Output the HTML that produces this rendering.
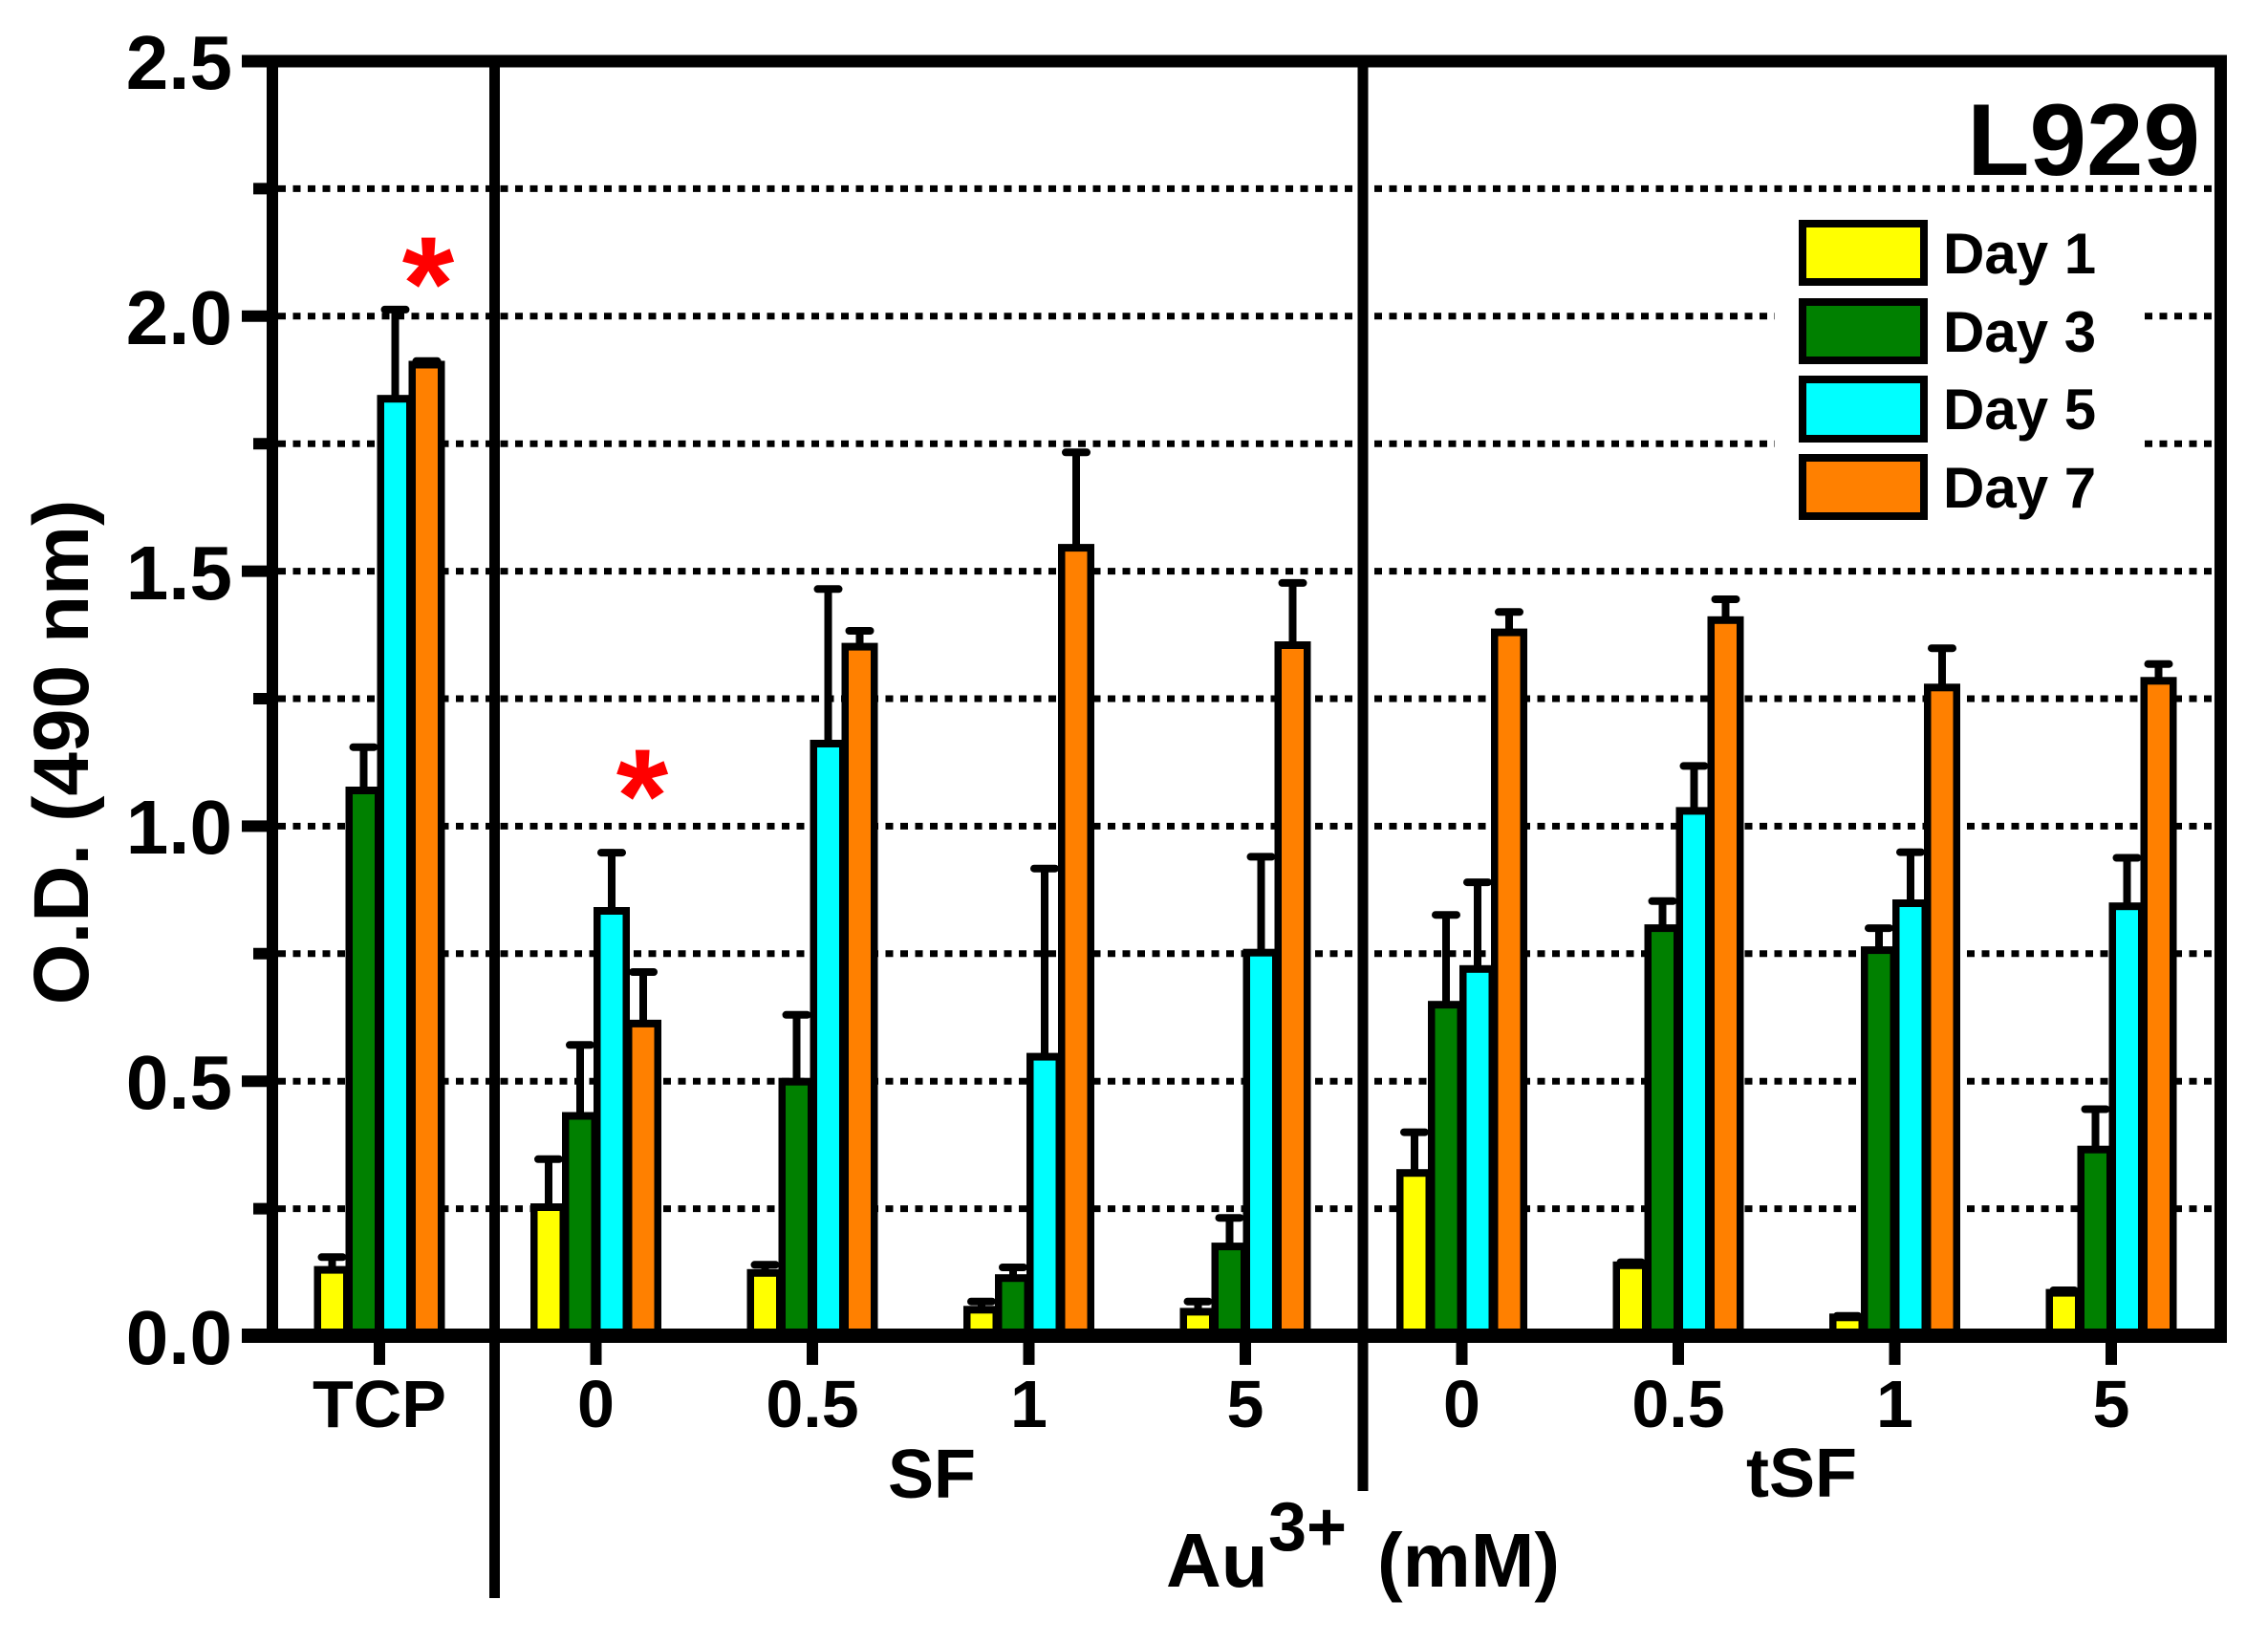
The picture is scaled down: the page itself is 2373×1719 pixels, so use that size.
<!DOCTYPE html>
<html><head><meta charset="utf-8"><style>
html,body{margin:0;padding:0;background:#fff;}
svg{display:block;}
text{font-family:"Liberation Sans",Arial,sans-serif;font-weight:bold;fill:#000;}
.k{fill:#000;}
.y{fill:#ffff00;}.g{fill:#008000;}.c{fill:#00ffff;}.o{fill:#ff8000;}
.e{stroke:#000;stroke-width:8;}
.cap{stroke:#000;stroke-width:8;stroke-linecap:round;}
.grid{stroke:#000;stroke-width:7;stroke-dasharray:8 7.5;}
</style></head><body>
<svg width="2373" height="1719" viewBox="0 0 2373 1719" xmlns="http://www.w3.org/2000/svg">
<rect width="2373" height="1719" fill="#fff"/>
<g class="grid">
<line x1="291" x2="2317" y1="1264.6" y2="1264.6"/>
<line x1="291" x2="2317" y1="1131.2" y2="1131.2"/>
<line x1="291" x2="2317" y1="997.8" y2="997.8"/>
<line x1="291" x2="2317" y1="864.4" y2="864.4"/>
<line x1="291" x2="2317" y1="731" y2="731"/>
<line x1="291" x2="2317" y1="597.6" y2="597.6"/>
<line x1="291" x2="2317" y1="464.2" y2="464.2"/>
<line x1="291" x2="2317" y1="330.8" y2="330.8"/>
<line x1="291" x2="2317" y1="197.4" y2="197.4"/>
</g>
<rect x="1857" y="215" width="386" height="343" fill="#fff"/>
<rect x="512" y="64" width="11" height="1608" fill="#000"/>
<rect x="1420.5" y="64" width="11" height="1496" fill="#000"/>

<g transform="translate(347.5 0)"><line class="e" x1="0" x2="0" y1="1328.6" y2="1315.3"/><line class="cap" x1="-11" x2="11" y1="1315.3" y2="1315.3"/><rect class="k" x="-19" y="1324.6" width="38" height="74"/><rect class="y" x="-11.5" y="1332.6" width="23" height="66"/></g>
<g transform="translate(380.5 0)"><line class="e" x1="0" x2="0" y1="827" y2="781.7"/><line class="cap" x1="-11" x2="11" y1="781.7" y2="781.7"/><rect class="k" x="-19" y="823" width="38" height="575"/><rect class="g" x="-11.5" y="831" width="23" height="567"/></g>
<g transform="translate(413.5 0)"><line class="e" x1="0" x2="0" y1="417.2" y2="323.9"/><line class="cap" x1="-11" x2="11" y1="323.9" y2="323.9"/><rect class="k" x="-19" y="413.2" width="38" height="985"/><rect class="c" x="-11.5" y="421.2" width="23" height="977"/></g>
<g transform="translate(446.5 0)"><line class="e" x1="0" x2="0" y1="381.5" y2="377.8"/><line class="cap" x1="-11" x2="11" y1="377.8" y2="377.8"/><rect class="k" x="-19" y="377.5" width="38" height="1021"/><rect class="o" x="-11.5" y="385.5" width="23" height="1013"/></g>
<g transform="translate(574 0)"><line class="e" x1="0" x2="0" y1="1263" y2="1212.8"/><line class="cap" x1="-11" x2="11" y1="1212.8" y2="1212.8"/><rect class="k" x="-19" y="1259" width="38" height="139"/><rect class="y" x="-11.5" y="1267" width="23" height="131"/></g>
<g transform="translate(607 0)"><line class="e" x1="0" x2="0" y1="1167.5" y2="1093.3"/><line class="cap" x1="-11" x2="11" y1="1093.3" y2="1093.3"/><rect class="k" x="-19" y="1163.5" width="38" height="235"/><rect class="g" x="-11.5" y="1171.5" width="23" height="227"/></g>
<g transform="translate(640 0)"><line class="e" x1="0" x2="0" y1="953" y2="892.1"/><line class="cap" x1="-11" x2="11" y1="892.1" y2="892.1"/><rect class="k" x="-19" y="949" width="38" height="449"/><rect class="c" x="-11.5" y="957" width="23" height="441"/></g>
<g transform="translate(673 0)"><line class="e" x1="0" x2="0" y1="1070.9" y2="1017"/><line class="cap" x1="-11" x2="11" y1="1017" y2="1017"/><rect class="k" x="-19" y="1066.9" width="38" height="332"/><rect class="o" x="-11.5" y="1074.9" width="23" height="324"/></g>
<g transform="translate(800.5 0)"><line class="e" x1="0" x2="0" y1="1331.8" y2="1323.3"/><line class="cap" x1="-11" x2="11" y1="1323.3" y2="1323.3"/><rect class="k" x="-19" y="1327.8" width="38" height="71"/><rect class="y" x="-11.5" y="1335.8" width="23" height="63"/></g>
<g transform="translate(833.5 0)"><line class="e" x1="0" x2="0" y1="1131.7" y2="1061.8"/><line class="cap" x1="-11" x2="11" y1="1061.8" y2="1061.8"/><rect class="k" x="-19" y="1127.7" width="38" height="271"/><rect class="g" x="-11.5" y="1135.7" width="23" height="263"/></g>
<g transform="translate(866.5 0)"><line class="e" x1="0" x2="0" y1="778" y2="616.3"/><line class="cap" x1="-11" x2="11" y1="616.3" y2="616.3"/><rect class="k" x="-19" y="774" width="38" height="624"/><rect class="c" x="-11.5" y="782" width="23" height="616"/></g>
<g transform="translate(899.5 0)"><line class="e" x1="0" x2="0" y1="676.6" y2="660"/><line class="cap" x1="-11" x2="11" y1="660" y2="660"/><rect class="k" x="-19" y="672.6" width="38" height="726"/><rect class="o" x="-11.5" y="680.6" width="23" height="718"/></g>
<g transform="translate(1027 0)"><line class="e" x1="0" x2="0" y1="1370.3" y2="1361.7"/><line class="cap" x1="-11" x2="11" y1="1361.7" y2="1361.7"/><rect class="k" x="-19" y="1366.3" width="38" height="32"/><rect class="y" x="-11.5" y="1374.3" width="23" height="24"/></g>
<g transform="translate(1060 0)"><line class="e" x1="0" x2="0" y1="1337.2" y2="1326"/><line class="cap" x1="-11" x2="11" y1="1326" y2="1326"/><rect class="k" x="-19" y="1333.2" width="38" height="65"/><rect class="g" x="-11.5" y="1341.2" width="23" height="57"/></g>
<g transform="translate(1093 0)"><line class="e" x1="0" x2="0" y1="1105.6" y2="908.7"/><line class="cap" x1="-11" x2="11" y1="908.7" y2="908.7"/><rect class="k" x="-19" y="1101.6" width="38" height="297"/><rect class="c" x="-11.5" y="1109.6" width="23" height="289"/></g>
<g transform="translate(1126 0)"><line class="e" x1="0" x2="0" y1="573.1" y2="473.3"/><line class="cap" x1="-11" x2="11" y1="473.3" y2="473.3"/><rect class="k" x="-19" y="569.1" width="38" height="829"/><rect class="o" x="-11.5" y="577.1" width="23" height="821"/></g>
<g transform="translate(1253.5 0)"><line class="e" x1="0" x2="0" y1="1372.4" y2="1361.7"/><line class="cap" x1="-11" x2="11" y1="1361.7" y2="1361.7"/><rect class="k" x="-19" y="1368.4" width="38" height="30"/><rect class="y" x="-11.5" y="1376.4" width="23" height="22"/></g>
<g transform="translate(1286.5 0)"><line class="e" x1="0" x2="0" y1="1304.1" y2="1274.2"/><line class="cap" x1="-11" x2="11" y1="1274.2" y2="1274.2"/><rect class="k" x="-19" y="1300.1" width="38" height="98"/><rect class="g" x="-11.5" y="1308.1" width="23" height="90"/></g>
<g transform="translate(1319.5 0)"><line class="e" x1="0" x2="0" y1="996.7" y2="896.4"/><line class="cap" x1="-11" x2="11" y1="896.4" y2="896.4"/><rect class="k" x="-19" y="992.7" width="38" height="406"/><rect class="c" x="-11.5" y="1000.7" width="23" height="398"/></g>
<g transform="translate(1352.5 0)"><line class="e" x1="0" x2="0" y1="675" y2="609.9"/><line class="cap" x1="-11" x2="11" y1="609.9" y2="609.9"/><rect class="k" x="-19" y="671" width="38" height="727"/><rect class="o" x="-11.5" y="679" width="23" height="719"/></g>
<g transform="translate(1480 0)"><line class="e" x1="0" x2="0" y1="1227.2" y2="1184.6"/><line class="cap" x1="-11" x2="11" y1="1184.6" y2="1184.6"/><rect class="k" x="-19" y="1223.2" width="38" height="175"/><rect class="y" x="-11.5" y="1231.2" width="23" height="167"/></g>
<g transform="translate(1513 0)"><line class="e" x1="0" x2="0" y1="1051.2" y2="957.2"/><line class="cap" x1="-11" x2="11" y1="957.2" y2="957.2"/><rect class="k" x="-19" y="1047.2" width="38" height="351"/><rect class="g" x="-11.5" y="1055.2" width="23" height="343"/></g>
<g transform="translate(1546 0)"><line class="e" x1="0" x2="0" y1="1013.8" y2="923.1"/><line class="cap" x1="-11" x2="11" y1="923.1" y2="923.1"/><rect class="k" x="-19" y="1009.8" width="38" height="389"/><rect class="c" x="-11.5" y="1017.8" width="23" height="381"/></g>
<g transform="translate(1579 0)"><line class="e" x1="0" x2="0" y1="661.6" y2="640.3"/><line class="cap" x1="-11" x2="11" y1="640.3" y2="640.3"/><rect class="k" x="-19" y="657.6" width="38" height="741"/><rect class="o" x="-11.5" y="665.6" width="23" height="733"/></g>
<g transform="translate(1706.5 0)"><line class="e" x1="0" x2="0" y1="1323.8" y2="1320.6"/><line class="cap" x1="-11" x2="11" y1="1320.6" y2="1320.6"/><rect class="k" x="-19" y="1319.8" width="38" height="79"/><rect class="y" x="-11.5" y="1327.8" width="23" height="71"/></g>
<g transform="translate(1739.5 0)"><line class="e" x1="0" x2="0" y1="971.1" y2="942.8"/><line class="cap" x1="-11" x2="11" y1="942.8" y2="942.8"/><rect class="k" x="-19" y="967.1" width="38" height="431"/><rect class="g" x="-11.5" y="975.1" width="23" height="423"/></g>
<g transform="translate(1772.5 0)"><line class="e" x1="0" x2="0" y1="848.4" y2="801.4"/><line class="cap" x1="-11" x2="11" y1="801.4" y2="801.4"/><rect class="k" x="-19" y="844.4" width="38" height="554"/><rect class="c" x="-11.5" y="852.4" width="23" height="546"/></g>
<g transform="translate(1805.5 0)"><line class="e" x1="0" x2="0" y1="648.8" y2="627"/><line class="cap" x1="-11" x2="11" y1="627" y2="627"/><rect class="k" x="-19" y="644.8" width="38" height="754"/><rect class="o" x="-11.5" y="652.8" width="23" height="746"/></g>
<g transform="translate(1933 0)"><line class="e" x1="0" x2="0" y1="1378.3" y2="1376.7"/><line class="cap" x1="-11" x2="11" y1="1376.7" y2="1376.7"/><rect class="k" x="-19" y="1374.3" width="38" height="24"/><rect class="y" x="-11.5" y="1382.3" width="23" height="16"/></g>
<g transform="translate(1966 0)"><line class="e" x1="0" x2="0" y1="994.1" y2="971.1"/><line class="cap" x1="-11" x2="11" y1="971.1" y2="971.1"/><rect class="k" x="-19" y="990.1" width="38" height="408"/><rect class="g" x="-11.5" y="998.1" width="23" height="400"/></g>
<g transform="translate(1999 0)"><line class="e" x1="0" x2="0" y1="945" y2="891.6"/><line class="cap" x1="-11" x2="11" y1="891.6" y2="891.6"/><rect class="k" x="-19" y="941" width="38" height="457"/><rect class="c" x="-11.5" y="949" width="23" height="449"/></g>
<g transform="translate(2032 0)"><line class="e" x1="0" x2="0" y1="719.3" y2="678.2"/><line class="cap" x1="-11" x2="11" y1="678.2" y2="678.2"/><rect class="k" x="-19" y="715.3" width="38" height="683"/><rect class="o" x="-11.5" y="723.3" width="23" height="675"/></g>
<g transform="translate(2159.5 0)"><line class="e" x1="0" x2="0" y1="1352.6" y2="1350"/><line class="cap" x1="-11" x2="11" y1="1350" y2="1350"/><rect class="k" x="-19" y="1348.6" width="38" height="50"/><rect class="y" x="-11.5" y="1356.6" width="23" height="42"/></g>
<g transform="translate(2192.5 0)"><line class="e" x1="0" x2="0" y1="1202.7" y2="1160.5"/><line class="cap" x1="-11" x2="11" y1="1160.5" y2="1160.5"/><rect class="k" x="-19" y="1198.7" width="38" height="200"/><rect class="g" x="-11.5" y="1206.7" width="23" height="192"/></g>
<g transform="translate(2225.5 0)"><line class="e" x1="0" x2="0" y1="948.2" y2="897.5"/><line class="cap" x1="-11" x2="11" y1="897.5" y2="897.5"/><rect class="k" x="-19" y="944.2" width="38" height="454"/><rect class="c" x="-11.5" y="952.2" width="23" height="446"/></g>
<g transform="translate(2258.5 0)"><line class="e" x1="0" x2="0" y1="712.3" y2="694.7"/><line class="cap" x1="-11" x2="11" y1="694.7" y2="694.7"/><rect class="k" x="-19" y="708.3" width="38" height="690"/><rect class="o" x="-11.5" y="716.3" width="23" height="682"/></g>

<rect x="253" y="57.5" width="2077" height="13" fill="#000"/>
<rect x="253" y="1390" width="2077" height="15" fill="#000"/>
<rect x="279" y="57.5" width="12" height="1347.5" fill="#000"/>
<rect x="2317" y="57.5" width="13" height="1347.5" fill="#000"/>
<g stroke="#000" stroke-width="12">
<line x1="253" x2="285" y1="1131.2" y2="1131.2"/>
<line x1="253" x2="285" y1="864.4" y2="864.4"/>
<line x1="253" x2="285" y1="597.6" y2="597.6"/>
<line x1="253" x2="285" y1="330.8" y2="330.8"/>
<line x1="265" x2="285" y1="1264.6" y2="1264.6"/>
<line x1="265" x2="285" y1="997.8" y2="997.8"/>
<line x1="265" x2="285" y1="731" y2="731"/>
<line x1="265" x2="285" y1="464.2" y2="464.2"/>
<line x1="265" x2="285" y1="197.4" y2="197.4"/>
</g>
<g stroke="#000" stroke-width="12">
<line x1="397" x2="397" y1="1400" y2="1428"/>
<line x1="623.5" x2="623.5" y1="1400" y2="1428"/>
<line x1="850" x2="850" y1="1400" y2="1428"/>
<line x1="1076.5" x2="1076.5" y1="1400" y2="1428"/>
<line x1="1303" x2="1303" y1="1400" y2="1428"/>
<line x1="1529.5" x2="1529.5" y1="1400" y2="1428"/>
<line x1="1756" x2="1756" y1="1400" y2="1428"/>
<line x1="1982.5" x2="1982.5" y1="1400" y2="1428"/>
<line x1="2209" x2="2209" y1="1400" y2="1428"/>
</g>

<g font-size="80" text-anchor="end">
<text x="243" y="1427">0.0</text>
<text x="243" y="1160">0.5</text>
<text x="243" y="893">1.0</text>
<text x="243" y="627">1.5</text>
<text x="243" y="360">2.0</text>
<text x="243" y="93">2.5</text>
</g>
<g font-size="70" text-anchor="middle">
<text x="397" y="1493">TCP</text>
<text x="623.5" y="1493">0</text>
<text x="850" y="1493">0.5</text>
<text x="1076.5" y="1493">1</text>
<text x="1303" y="1493">5</text>
<text x="1529.5" y="1493">0</text>
<text x="1756" y="1493">0.5</text>
<text x="1982.5" y="1493">1</text>
<text x="2209" y="1493">5</text>
</g>
<text x="975" y="1567" font-size="72" text-anchor="middle">SF</text>
<text x="1885" y="1566" font-size="72" text-anchor="middle">tSF</text>
<text x="1220" y="1660" font-size="80">Au</text>
<text x="1327" y="1622" font-size="72">3+</text>
<text x="1441" y="1660" font-size="80">(mM)</text>
<text transform="translate(92 787) rotate(-90)" font-size="82" text-anchor="middle">O.D. (490 nm)</text>
<text x="2302" y="183" font-size="107" text-anchor="end">L929</text>

<text x="448" y="345" font-size="140" text-anchor="middle" style="fill:#ff0000">*</text>
<text x="672" y="881" font-size="140" text-anchor="middle" style="fill:#ff0000">*</text>

<g stroke="#000" stroke-width="8">
<rect x="1886" y="234" width="127" height="61" fill="#ffff00"/>
<rect x="1886" y="316" width="127" height="61" fill="#008000"/>
<rect x="1886" y="397" width="127" height="62" fill="#00ffff"/>
<rect x="1886" y="479" width="127" height="61" fill="#ff8000"/>
</g>
<g font-size="60">
<text x="2033" y="286">Day 1</text>
<text x="2033" y="368">Day 3</text>
<text x="2033" y="449">Day 5</text>
<text x="2033" y="531">Day 7</text>
</g>
</svg>
</body></html>
